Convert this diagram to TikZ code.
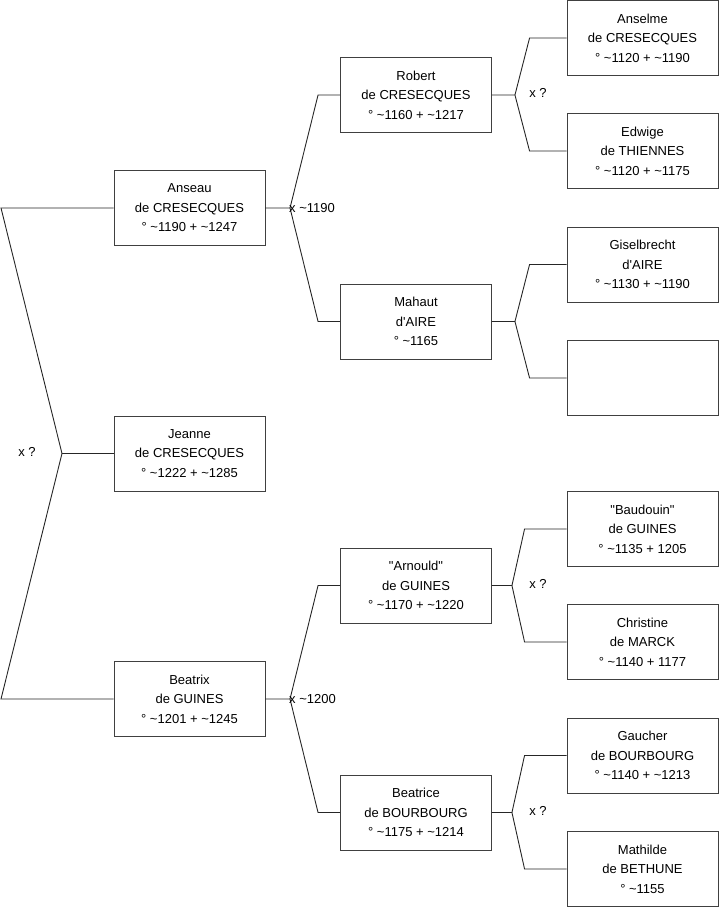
\documentclass[tikz,border=0pt]{standalone}
\usepackage{fontspec}
\setmainfont{Liberation Sans}[Ligatures=TeXOff]
\newcommand{\dq}{\symbol{34}}
\newcommand{\sq}{\symbol{39}}
\begin{document}
\begin{tikzpicture}[x=1pt,y=-1pt,
  person/.style={draw=black!75, line width=0.9pt, minimum width=151pt, minimum height=75pt,
    inner sep=0pt, align=center, font=\fontsize{13}{19.5}\selectfont},
  link/.style={draw=black!85, line width=0.9pt},
  lbl/.style={inner sep=0pt, font=\fontsize{13}{14}\selectfont}]
\useasboundingbox (0,0) rectangle (719,908);
% generation 1
\node[person] (anseau)   at (189.5,208)   {Anseau\\de CRESECQUES\\° \textasciitilde1190 + \textasciitilde1247};
\node[person] (jeanne)   at (189.5,453.5) {Jeanne\\de CRESECQUES\\° \textasciitilde1222 + \textasciitilde1285};
\node[person] (beatrix)  at (189.5,699)   {Beatrix\\de GUINES\\° \textasciitilde1201 + \textasciitilde1245};
% generation 2
\node[person] (robert)   at (416,95)      {Robert\\de CRESECQUES\\° \textasciitilde1160 + \textasciitilde1217};
\node[person] (mahaut)   at (416,321.5)   {Mahaut\\d\sq AIRE\\° \textasciitilde1165};
\node[person] (arnould)  at (416,585.5)   {\dq Arnould\dq\\de GUINES\\° \textasciitilde1170 + \textasciitilde1220};
\node[person] (beatrice) at (416,812.5)   {Beatrice\\de BOURBOURG\\° \textasciitilde1175 + \textasciitilde1214};
% generation 3
\node[person] (anselme)  at (642.5,38)    {Anselme\\de CRESECQUES\\° \textasciitilde1120 + \textasciitilde1190};
\node[person] (edwige)   at (642.5,151)   {Edwige\\de THIENNES\\° \textasciitilde1120 + \textasciitilde1175};
\node[person] (gisel)    at (642.5,264.5) {Giselbrecht\\d\sq AIRE\\° \textasciitilde1130 + \textasciitilde1190};
\node[person] (empty)    at (642.5,378)   {};
\node[person] (baudouin) at (642.5,529)   {\dq Baudouin\dq\\de GUINES\\° \textasciitilde1135 + 1205};
\node[person] (christine) at (642.5,642)  {Christine\\de MARCK\\° \textasciitilde1140 + 1177};
\node[person] (gaucher)  at (642.5,755.5) {Gaucher\\de BOURBOURG\\° \textasciitilde1140 + \textasciitilde1213};
\node[person] (mathilde) at (642.5,869)   {Mathilde\\de BETHUNE\\° \textasciitilde1155};
% junctions
\coordinate (root) at (62,453.5);
\coordinate (ja) at (290,208);
\coordinate (jb) at (290,699);
% root
\draw[link] (anseau.west) -- (1,208) -- (root) -- (1,699) -- (beatrix.west);
\draw[link] (root) -- (jeanne.west);
\node[lbl] (xroot) at (27,452) {x ?};
% Anseau parents
\draw[link] (anseau.east) -- (ja) -- ([xshift=-22]robert.west) -- (robert.west);
\draw[link] (ja) -- ([xshift=-22]mahaut.west) -- (mahaut.west);
\node[lbl, anchor=base west] (xa) at (289,212) {x \textasciitilde1190};
% Beatrix parents
\draw[link] (beatrix.east) -- (jb) -- ([xshift=-22]arnould.west) -- (arnould.west);
\draw[link] (jb) -- ([xshift=-22]beatrice.west) -- (beatrice.west);
\node[lbl, anchor=base west] (xb) at (289,703) {x \textasciitilde1200};
% Robert parents
\draw[link] (robert.east) -- ++(23,0) coordinate (jr) -- ([xshift=-37]anselme.west) -- (anselme.west);
\draw[link] (jr) -- ([xshift=-37]edwige.west) -- (edwige.west);
\node[lbl] (xr) at (538,93) {x ?};
% Mahaut parents
\draw[link] (mahaut.east) -- ++(23,0) coordinate (jm) -- ([xshift=-37]gisel.west) -- (gisel.west);
\draw[link] (jm) -- ([xshift=-37]empty.west) -- (empty.west);
% Arnould parents
\draw[link] (arnould.east) -- ++(20,0) coordinate (jn) -- ([xshift=-42]baudouin.west) -- (baudouin.west);
\draw[link] (jn) -- ([xshift=-42]christine.west) -- (christine.west);
\node[lbl] (xn) at (538,584) {x ?};
% Beatrice parents
\draw[link] (beatrice.east) -- ++(20,0) coordinate (jc) -- ([xshift=-42]gaucher.west) -- (gaucher.west);
\draw[link] (jc) -- ([xshift=-42]mathilde.west) -- (mathilde.west);
\node[lbl] (xc) at (538,811) {x ?};
\end{tikzpicture}
\end{document}
